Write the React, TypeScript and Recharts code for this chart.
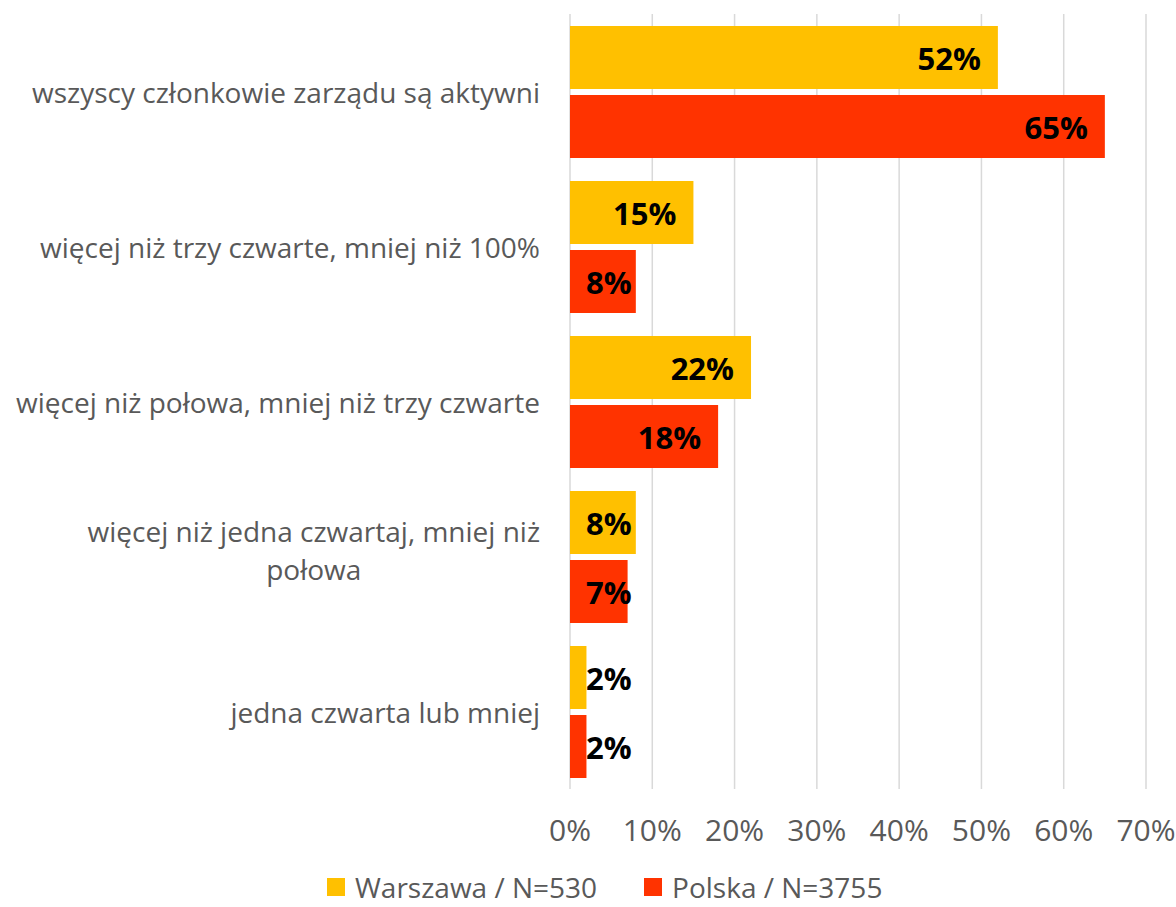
import React from "react";
import { BarChart, Bar, XAxis, YAxis, CartesianGrid, LabelList } from "recharts";

const categories = [
  "wszyscy członkowie zarządu są aktywni",
  "więcej niż trzy czwarte, mniej niż 100%",
  "więcej niż połowa, mniej niż trzy czwarte",
  "więcej niż jedna czwartaj, mniej niż połowa",
  "jedna czwarta lub mniej",
];
const warszawa = [0.52, 0.15, 0.22, 0.08, 0.02];
const polska = [0.65, 0.08, 0.18, 0.07, 0.02];
const xTicks = [0, 0.1, 0.2, 0.3, 0.4, 0.5, 0.6, 0.7];

const seriesNames = ["Warszawa / N=530", "Polska / N=3755"];
const colors = ["#FFC000", "#FF3300"];

const FONT = '"Open Sans", sans-serif';
const CAT_SIZE = 28;
const TICK_SIZE = 30;
const LEGEND_SIZE = 28;
const LABEL_SIZE = 31;

const data = categories.map((c, i) => ({ name: c, warszawa: warszawa[i], polska: polska[i] }));

let ctx: CanvasRenderingContext2D | null = null;
function measure(text: string, font: string) {
  if (!ctx) ctx = document.createElement("canvas").getContext("2d");
  if (!ctx) return text.length * 12;
  ctx.font = font;
  return ctx.measureText(text).width;
}

function wrap(text: string, maxWidth: number) {
  const words = text.split(" ");
  const lines: string[] = [];
  let cur = "";
  for (const w of words) {
    const next = cur ? cur + " " + w : w;
    if (cur && measure(next, `${CAT_SIZE}px ${FONT}`) > maxWidth) {
      lines.push(cur);
      cur = w;
    } else cur = next;
  }
  if (cur) lines.push(cur);
  return lines;
}

const YTick = (props: any) => {
  const { x, y, payload } = props;
  const lines = wrap(payload.value, 540);
  const right = x - 30;
  if (lines.length === 1) {
    return (
      <text x={right} y={y} textAnchor="end" dominantBaseline="central" fontFamily={FONT} fontSize={CAT_SIZE} fill="#595959">
        {lines[0]}
      </text>
    );
  }
  // wrapped label: first line right-aligned, following lines centred under it
  const w0 = measure(lines[0], `${CAT_SIZE}px ${FONT}`);
  const mid = right - w0 / 2;
  return (
    <g>
      {lines.map((l, i) => (
        <text
          key={i}
          x={mid}
          y={y - 26 + i * 38}
          textAnchor="middle"
          dominantBaseline="central"
          fontFamily={FONT}
          fontSize={CAT_SIZE}
          fill="#595959"
        >
          {l}
        </text>
      ))}
    </g>
  );
};

const XTick = (props: any) => {
  const { x, y, payload } = props;
  return (
    <text x={x} y={y + 52} textAnchor="middle" fontFamily={FONT} fontSize={TICK_SIZE} fill="#595959">
      {Math.round(payload.value * 100) + "%"}
    </text>
  );
};

const BarLabel = (props: any) => {
  const { x, y, width, height, value } = props;
  const text = Math.round(value * 100) + "%";
  const font = `bold ${LABEL_SIZE}px ${FONT}`;
  const w = measure(text, font);
  const tx = Math.max(x + width - 17 - w, x + 16);
  return (
    <text x={tx} y={y + height / 2} dominantBaseline="central" fontFamily={FONT} fontWeight="bold" fontSize={LABEL_SIZE} fill="#000">
      {text}
    </text>
  );
};

export default function App() {
  return (
    <div style={{ position: "absolute", left: 0, top: 0, width: 1176, height: 907, background: "#fff" }}>
      <BarChart
        layout="vertical"
        width={1176}
        height={907}
        data={data}
        margin={{ top: 14, right: 30, bottom: 88, left: 0 }}
        barCategoryGap={12}
        barGap={6}
      >
        <CartesianGrid horizontal={false} stroke="#D9D9D9" strokeWidth={1.5} />
        <XAxis
          type="number"
          domain={[0, 0.7]}
          ticks={xTicks}
          axisLine={false}
          tickLine={false}
          tickSize={0}
          tickMargin={0}
          height={30}
          tick={<XTick />}
          interval={0}
        />
        <YAxis
          type="category"
          dataKey="name"
          width={570}
          axisLine={false}
          tickLine={false}
          tickSize={0}
          tickMargin={0}
          tick={<YTick />}
          interval={0}
        />
        <Bar dataKey="warszawa" fill={colors[0]} isAnimationActive={false}>
          <LabelList dataKey="warszawa" content={<BarLabel />} />
        </Bar>
        <Bar dataKey="polska" fill={colors[1]} isAnimationActive={false}>
          <LabelList dataKey="polska" content={<BarLabel />} />
        </Bar>
      </BarChart>
      <div
        style={{
          position: "absolute",
          left: 327,
          top: 868,
          height: 38,
          display: "flex",
          alignItems: "center",
          fontFamily: FONT,
          fontSize: LEGEND_SIZE,
          color: "#595959",
          lineHeight: "38px",
          whiteSpace: "nowrap",
        }}
      >
        {seriesNames.map((n, i) => (
          <div key={n} style={{ display: "flex", alignItems: "center", marginRight: i === 0 ? 47 : 0 }}>
            <span style={{ display: "inline-block", width: 18, height: 18, background: colors[i], marginRight: 10 }} />
            <span>{n}</span>
          </div>
        ))}
      </div>
    </div>
  );
}
